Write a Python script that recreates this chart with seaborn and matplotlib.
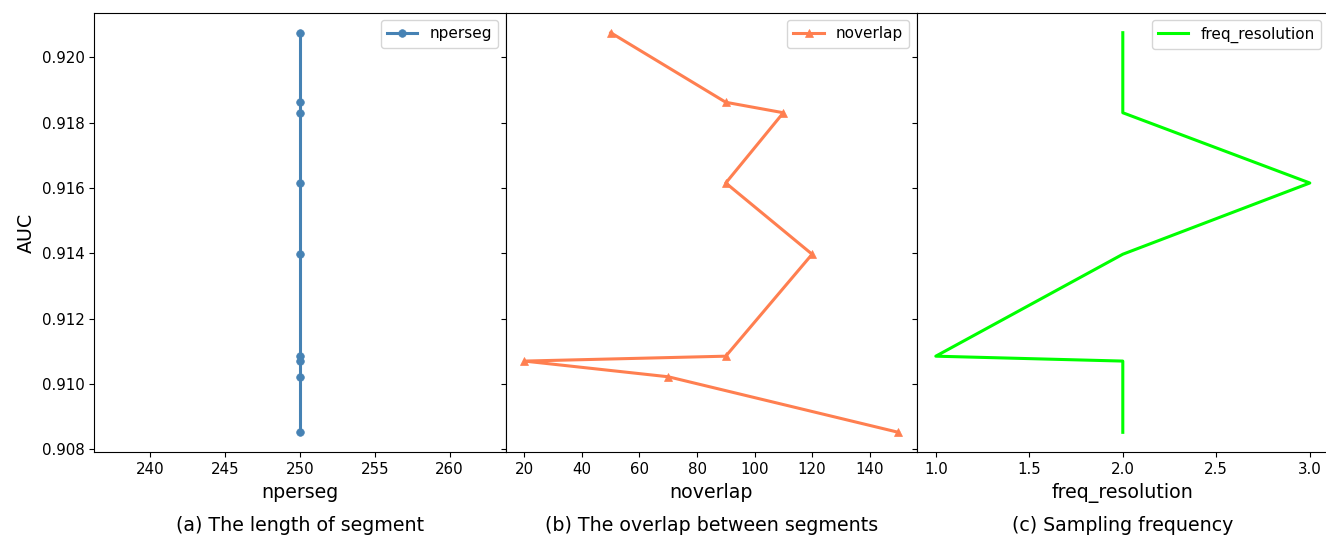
import matplotlib
matplotlib.use("Agg")
import matplotlib.pyplot as plt
from matplotlib.ticker import MultipleLocator
import numpy as np
import pandas as pd
import seaborn as sns

# AUC for each run, sorted from best to worst
auc = [0.92075, 0.91862, 0.91830, 0.91615, 0.91397, 0.91085, 0.91070, 0.91022, 0.90852]
nperseg = [250, 250, 250, 250, 250, 250, 250, 250, 250]
noverlap = [50, 90, 110, 90, 120, 90, 20, 70, 150]
freq_resolution = [2, 2, 2, 3, 2, 1, 2, 2, 2]

captions = ["(a) The length of segment",
            "(b) The overlap between segments",
            "(c) Sampling frequency"]

df = pd.DataFrame({"AUC": auc, "nperseg": nperseg,
                   "noverlap": noverlap, "freq_resolution": freq_resolution})

W, H = 1326, 537
fig, axes = plt.subplots(1, 3, sharey=True, figsize=(W / 100, H / 100), dpi=100)
fig.subplots_adjust(left=94.3 / W, right=1328.5 / W, top=1 - 12.7 / H,
                    bottom=1 - 452.3 / H, wspace=0)

specs = [("nperseg", "steelblue", "o"),
         ("noverlap", "coral", "^"),
         ("freq_resolution", "lime", None)]

for ax, (col, color, mk), cap in zip(axes, specs, captions):
    kw = dict(marker=mk, markersize=5.5, markeredgecolor=color, markeredgewidth=0.5) if mk else {}
    sns.lineplot(data=df, x=col, y="AUC", sort=False, estimator=None,
                 color=color, linewidth=2.2, label=col, ax=ax, **kw)
    ax.set_xlabel(col, fontsize=13.7)
    ax.tick_params(labelsize=10.8)
    ax.legend(loc="upper right", fontsize=11)
    ax.text(0.5, -0.1654, cap, transform=ax.transAxes, ha="center",
            va="center", fontsize=13.7)

axes[2].xaxis.set_major_locator(MultipleLocator(0.5))
axes[0].set_ylabel("AUC", fontsize=13.7)
axes[1].set_ylabel("")
axes[2].set_ylabel("")

fig.savefig("out.png", dpi=100)
